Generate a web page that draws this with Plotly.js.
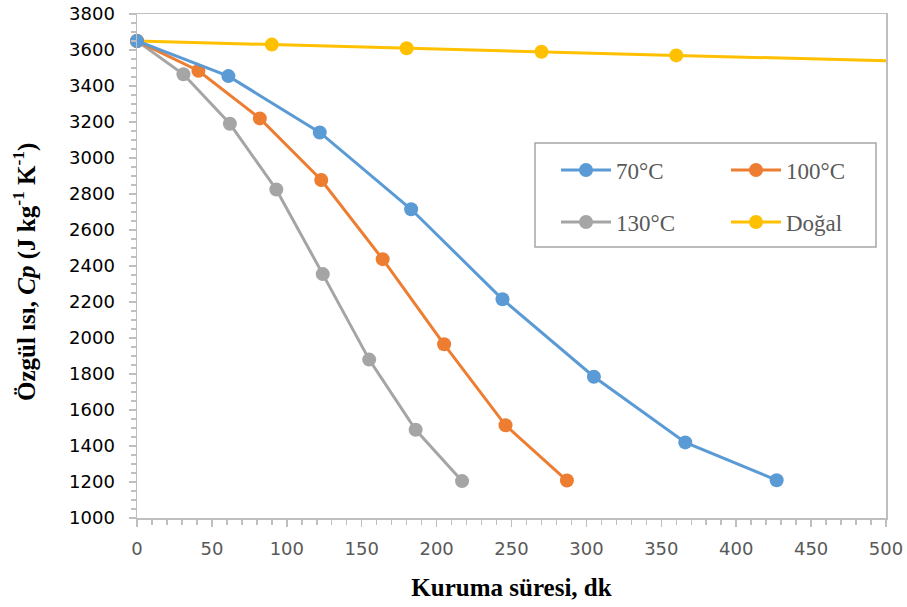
<!DOCTYPE html>
<html>
<head>
<meta charset="utf-8">
<script src="https://cdn.plot.ly/plotly-3.0.1.min.js"></script>
<style>
  html, body { margin: 0; padding: 0; background: #ffffff; }
  #chart { width: 907px; height: 607px; }
</style>
</head>
<body>
<div id="chart"></div>
<script>
// Drying time (minutes) and specific heat (J kg-1 K-1) for each drying condition
const time70 = [0, 61, 122, 183, 244, 305, 366, 427];
const cp70 = [3650, 3455, 3142, 2715, 2215, 1785, 1420, 1210];

const time100 = [0, 41, 82, 123, 164, 205, 246, 287];
const cp100 = [3650, 3485, 3220, 2878, 2438, 1965, 1515, 1208];

const time130 = [0, 31, 62, 93, 124, 155, 186, 217];
const cp130 = [3650, 3465, 3190, 2825, 2355, 1880, 1490, 1205];

const timeNatural = [0, 90, 180, 270, 360];
const cpNatural = [3650, 3630, 3610, 3590, 3570];
// continuation of the natural-drying line to the edge of the axis
const naturalTailTime = [360, 500];
const naturalTailCp = [3570, 3540];

const seriesNames = ['70°C', '100°C', '130°C', 'Doğal'];
const seriesColors = ['#5b9bd5', '#ed7d31', '#a5a5a5', '#ffc000'];

// plot-area geometry in pixels, used to place legends and the y title
const W = 907, H = 607;
const M = { l: 137, r: 21, t: 14, b: 89 };
const PW = W - M.l - M.r, PH = H - M.t - M.b;
const px = x => (x - M.l) / PW;
const py = y => (H - M.b - y) / PH;

function series(x, y, i, legendId) {
  return {
    type: 'scatter', mode: 'lines+markers', x: x, y: y,
    name: seriesNames[i], legend: legendId,
    line: { color: seriesColors[i], width: 3 },
    marker: { color: seriesColors[i], size: 14 },
    cliponaxis: false
  };
}

const traces = [
  {
    type: 'scatter', mode: 'lines', x: naturalTailTime, y: naturalTailCp,
    line: { color: seriesColors[3], width: 3 }, showlegend: false, hoverinfo: 'skip'
  },
  series(timeNatural, cpNatural, 3, 'legend4'),
  series(time130, cp130, 2, 'legend3'),
  series(time100, cp100, 1, 'legend2'),
  series(time70, cp70, 0, 'legend')
];

const serif = 'Liberation Serif, Times New Roman, serif';
const legendFont = { family: serif, size: 23, color: '#595959' };
function legendAt(xPix, yPix) {
  return {
    x: px(xPix), y: py(yPix), xanchor: 'left', yanchor: 'middle',
    bgcolor: 'rgba(0,0,0,0)', borderwidth: 0, font: legendFont,
    itemwidth: 50
  };
}

const axisCommon = {
  showline: true, linecolor: '#bfbfbf', linewidth: 1.5, mirror: true,
  showgrid: false, zeroline: false,
  ticks: 'outside', ticklen: 7, tickwidth: 1.5, tickcolor: '#bfbfbf'
};

const layout = {
  width: W, height: H,
  margin: M,
  paper_bgcolor: '#ffffff', plot_bgcolor: '#ffffff',
  showlegend: true,
  xaxis: Object.assign({}, axisCommon, {
    range: [0, 500], dtick: 50, tick0: 0,
    tickfont: { family: 'DejaVu Sans, sans-serif', size: 18, color: '#595959' },
    ticklabelstandoff: 7,
    minor: { dtick: 10, ticks: 'outside', ticklen: 5, tickwidth: 1.5, tickcolor: '#bfbfbf' },
    title: {
      text: 'Kuruma süresi, dk', standoff: 20,
      font: { family: serif, size: 25, color: '#000000', weight: 'bold' }
    }
  }),
  yaxis: Object.assign({}, axisCommon, {
    range: [1000, 3800], dtick: 200, tick0: 1000,
    tickfont: { family: 'DejaVu Sans, sans-serif', size: 18, color: '#000000' },
    ticklabelstandoff: 10,
    minor: { dtick: 50, ticks: 'outside', ticklen: 5, tickwidth: 1.5, tickcolor: '#bfbfbf' }
  }),
  legend: legendAt(556, 170),
  legend2: legendAt(726, 170),
  legend3: legendAt(556, 222),
  legend4: legendAt(726, 222),
  shapes: [{
    type: 'rect', xref: 'paper', yref: 'paper',
    x0: px(535), x1: px(876), y0: py(247), y1: py(143),
    line: { color: '#a6a6a6', width: 1.5 }, fillcolor: 'rgba(0,0,0,0)'
  }],
  annotations: [{
    xref: 'paper', yref: 'paper', x: px(24), y: py(272),
    xanchor: 'center', yanchor: 'middle', textangle: -90, showarrow: false,
    text: 'Özgül ısı, <i>Cp</i> (J kg<sup>-1</sup> K<sup>-1</sup>)',
    font: { family: serif, size: 25, color: '#000000', weight: 'bold' }
  }]
};

Plotly.newPlot('chart', traces, layout, { staticPlot: true, displayModeBar: false });
</script>
</body>
</html>
